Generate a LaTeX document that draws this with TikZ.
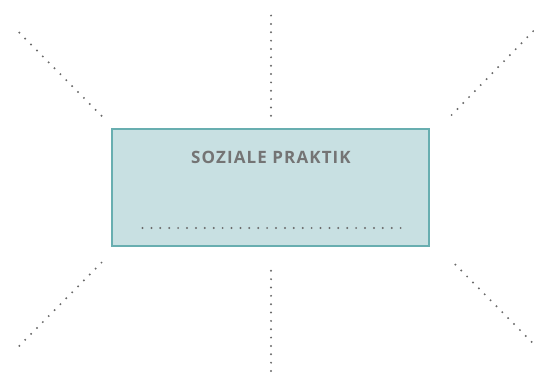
\documentclass[tikz,border=0pt]{standalone}
\usepackage{fontspec}
\setmainfont{Open Sans}
\definecolor{boxfill}{HTML}{C8E0E2}
\definecolor{boxline}{HTML}{68AEB0}
\definecolor{txtgray}{HTML}{747474}
\definecolor{dotgray}{HTML}{6A6A6A}
\tikzset{
  ray/.style={draw=dotgray, line width=2.2pt, line cap=round, dash pattern=on 0pt off 8.35pt},
  innerdots/.style={draw=dotgray, line width=2.2pt, line cap=round, dash pattern=on 0pt off 8.9pt},
  praxbox/.style={draw=boxline, fill=boxfill, line width=1.5pt, minimum width=317pt, minimum height=117pt, inner sep=0pt},
  title/.style={text=txtgray, font=\fontsize{17}{19}\selectfont\addfontfeature{LetterSpace=6.5}\bfseries, inner sep=0pt}
}
\begin{document}
\begin{tikzpicture}[x=1pt,y=-1pt]
\useasboundingbox (0,0) rectangle (534,374);
\node[praxbox] (box) at (270.5,187.3) {};
\node[title] (t) at (271,157) {SOZIALE PRAKTIK};
\coordinate (dl) at (142.5,228);
\coordinate (dr) at (402,228);
\draw[innerdots] (dl) -- (dr);
% rays
\coordinate (tl1) at (101.5,115.8); \coordinate (tl2) at (15.7,29);
\coordinate (tm1) at (271,115.8); \coordinate (tm2) at (271,11.2);
\coordinate (tr1) at (451.6,115); \coordinate (tr2) at (536,28.3);
\coordinate (bl1) at (101.5,262.6); \coordinate (bl2) at (15.7,349.5);
\coordinate (bm1) at (271,270.8); \coordinate (bm2) at (271,376);
\coordinate (br1) at (455.4,264.6); \coordinate (br2) at (532,342.3);
\draw[ray] (tl1) -- (tl2);
\draw[ray] (tm1) -- (tm2);
\draw[ray] (tr1) -- (tr2);
\draw[ray] (bl1) -- (bl2);
\draw[ray] (bm1) -- (bm2);
\draw[ray] (br1) -- (br2);
\end{tikzpicture}
\end{document}
